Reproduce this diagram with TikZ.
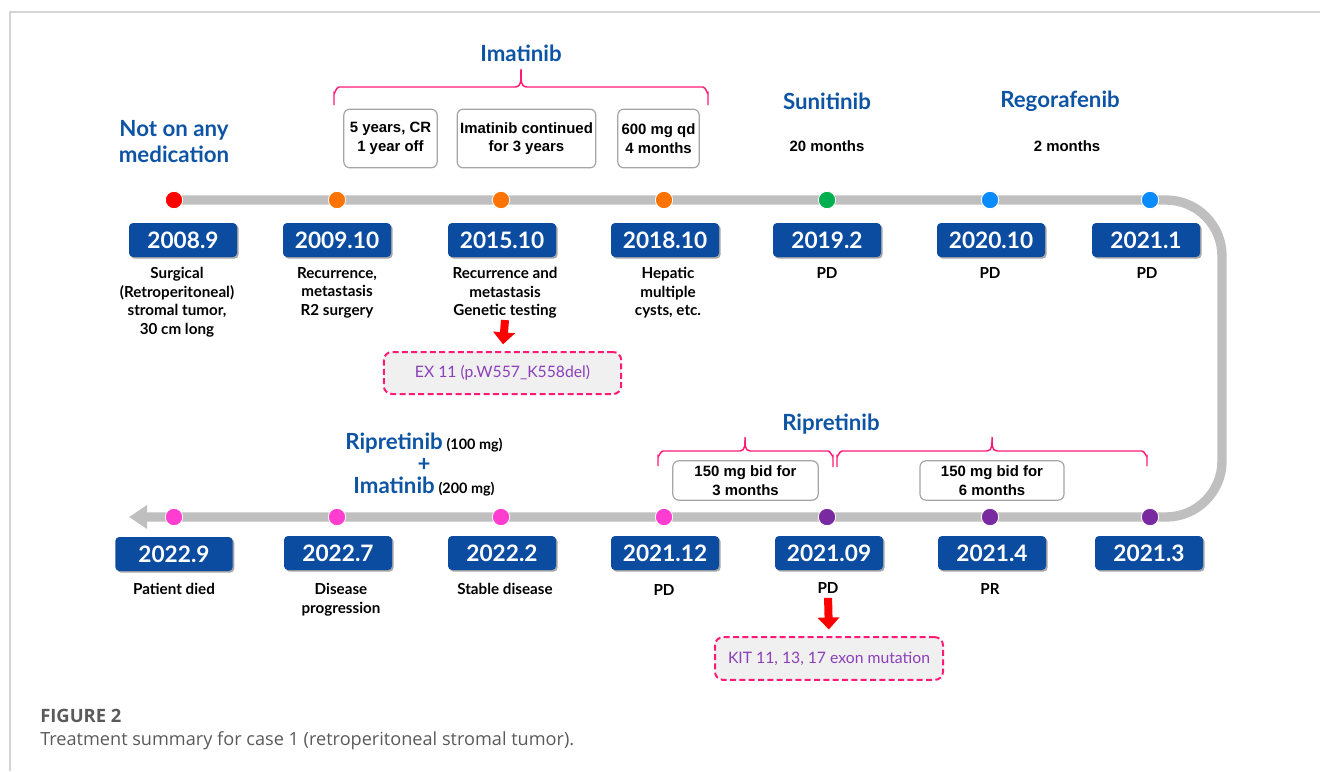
\documentclass[tikz,border=0pt]{standalone}
\usepackage{fontspec}
\setmainfont{Lato}
\newfontfamily\arialf{Liberation Sans}
\newfontfamily\capf{Open Sans}
\usetikzlibrary{shadows,arrows.meta}
\definecolor{dateblue}{RGB}{11,76,160}
\definecolor{tblue}{RGB}{14,84,165}
\definecolor{bracecol}{RGB}{255,26,117}
\colorlet{braceol}{bracecol}
\definecolor{tlgray}{RGB}{191,191,191}
\definecolor{dorange}{RGB}{255,115,0}
\definecolor{dgreen}{RGB}{0,176,80}
\definecolor{dblue}{RGB}{10,140,255}
\definecolor{dpink}{RGB}{255,61,208}
\definecolor{dpurple}{RGB}{122,42,160}
\definecolor{mutpurple}{RGB}{139,63,184}
\definecolor{capgray}{RGB}{90,90,90}
\definecolor{framecol}{RGB}{213,213,213}
\definecolor{boxgray}{RGB}{165,165,165}
\definecolor{mutfill}{RGB}{240,240,240}
\begin{document}
\begin{tikzpicture}[x=0.75pt,y=-0.75pt,
  datebox/.style={fill=dateblue, rounded corners=3pt, minimum width=81pt, minimum height=25.5pt,
    text=white, font=\bfseries\fontsize{17}{17}\selectfont, inner sep=0pt,
    drop shadow={shadow xshift=1.2pt, shadow yshift=-1.2pt, opacity=0.35, fill=black}},
  lbl/.style={anchor=north, align=center, inner sep=1pt, font=\bfseries\fontsize{11.4}{13.8}\selectfont},
  title/.style={align=center, text=tblue, font=\bfseries\fontsize{16.7}{19.5}\selectfont},
  dosebox/.style={draw=boxgray, line width=0.9pt, rounded corners=4.5pt, fill=white, align=center,
    font=\arialf\bfseries\fontsize{11.2}{14}\selectfont, inner sep=0pt},
  dosetxt/.style={align=center, font=\arialf\bfseries\fontsize{11.2}{14}\selectfont},
  dot/.style={circle, draw=white, line width=0.6pt, minimum size=13pt, inner sep=0pt},
  tl/.style={draw=tlgray, line width=7pt},
  mutbox/.style={draw=bracecol, dashed, dash pattern=on 4.5pt off 2.5pt, line width=1.5pt, fill=mutfill,
    rounded corners=6pt, text=mutpurple, font=\fontsize{11.8}{13}\selectfont, inner sep=0pt},
  redarr/.style={draw=red, line width=6pt, -{Triangle[length=9pt,width=16pt]}}
]
\useasboundingbox (0,0) rectangle (1320,771);
% frame
\draw[framecol, line width=1pt] (10,771) -- (10,12) -- (1320,12);

% coordinates of the timeline
\coordinate (p1) at (174,200);
\coordinate (p2) at (337,200);
\coordinate (p3) at (501,200);
\coordinate (p4) at (664,200);
\coordinate (p5) at (827,200);
\coordinate (p6) at (990,200);
\coordinate (p7) at (1150,200);
\coordinate (q1) at (174,517);
\coordinate (q2) at (337,517);
\coordinate (q3) at (501,517);
\coordinate (q4) at (664,517);
\coordinate (q5) at (827,517);
\coordinate (q6) at (990,517);
\coordinate (q7) at (1150,517);
\coordinate (c1) at (1222,200);
\coordinate (c2) at (1222,517);
\coordinate (tip) at (129,517);

\draw[tl, rounded corners=42pt, -{Triangle[length=13.5pt,width=17pt]}] (p1) -- (c1) -- (c2) -- (tip);

% dots
\node[dot, fill=red] (d1) at (p1) {};
\node[dot, fill=dorange] (d2) at (p2) {};
\node[dot, fill=dorange] (d3) at (p3) {};
\node[dot, fill=dorange] (d4) at (p4) {};
\node[dot, fill=dgreen] (d5) at (p5) {};
\node[dot, fill=dblue] (d6) at (p6) {};
\node[dot, fill=dblue] (d7) at (p7) {};
\node[dot, fill=dpink] (e1) at (q1) {};
\node[dot, fill=dpink] (e2) at (q2) {};
\node[dot, fill=dpink] (e3) at (q3) {};
\node[dot, fill=dpink] (e4) at (q4) {};
\node[dot, fill=dpurple] (e5) at (q5) {};
\node[dot, fill=dpurple] (e6) at (q6) {};
\node[dot, fill=dpurple] (e7) at (q7) {};

% date boxes top
\node[datebox] (t1) at (183,240) {2008.9};
\node[datebox] (t2) at (337,240) {2009.10};
\node[datebox] (t3) at (502,240) {2015.10};
\node[datebox] (t4) at (665,240) {2018.10};
\node[datebox] (t5) at (827,240) {2019.2};
\node[datebox] (t6) at (991,240) {2020.10};
\node[datebox] (t7) at (1146,240) {2021.1};
% date boxes bottom
\node[datebox, minimum width=88pt] (b1) at (174,554) {2022.9};
\node[datebox] (b2) at (338,553) {2022.7};
\node[datebox] (b3) at (502,553) {2022.2};
\node[datebox] (b4) at (665,553) {2021.12};
\node[datebox] (b5) at (829,553) {2021.09};
\node[datebox] (b6) at (992,553) {2021.4};
\node[datebox] (b7) at (1149,553) {2021.3};

% labels top
\node[lbl] (l1) at (177,266) {Surgical\\(Retroperitoneal)\\stromal tumor,\\30 cm long};
\node[lbl] (l2) at (337,266) {Recurrence,\\metastasis\\R2 surgery};
\node[lbl] (l3) at (505,266) {Recurrence and\\metastasis\\Genetic testing};
\node[lbl] (l4) at (668,266) {Hepatic\\multiple\\cysts, etc.};
\node[lbl] (l5) at (827,266) {PD};
\node[lbl] (l6) at (990,266) {PD};
\node[lbl] (l7) at (1147,266) {PD};
% labels bottom
\node[lbl] (m1) at (174,582) {Patient died};
\node[lbl] (m2) at (341,582) {Disease\\progression};
\node[lbl] (m3) at (505,582) {Stable disease};
\node[lbl] (m4) at (664,583) {PD};
\node[lbl] (m5) at (828,581) {PD};
\node[lbl] (m6) at (990,582) {PR};

% mutation boxes
\node[mutbox, minimum width=178pt, minimum height=31.5pt] (x1) at (502.5,373) {EX 11 (p.W557\_K558del)};
\node[mutbox, minimum width=171pt, minimum height=32pt] (x2) at (829,658.5) {KIT 11, 13, 17 exon mutation};
\draw[redarr, shorten <=0pt, shorten >=5pt] (l3.south) -- (x1.north);
\draw[redarr, shorten <=2pt, shorten >=5pt] (m5.south) -- (x2.north);

% titles
\node[title] (tn) at (174,142) {Not on any\\medication};
\node[title] (ti) at (521,53) {Imatinib};
\node[title] (ts) at (827,101) {Sunitinib};
\node[title] (tr) at (1060,101) {Regorafenib};
\node[title] (trp) at (831,424) {Ripretinib};
\node[title, text=black, font=\bfseries\fontsize{16.7}{16.5}\selectfont] (tc) at (424,465)
  {\textcolor{tblue}{Ripretinib}\,{\fontsize{10.8}{12}\selectfont (100 mg)}\\
   \textcolor{tblue}{+}\\
   \textcolor{tblue}{Imatinib}\,{\fontsize{10.8}{12}\selectfont (200 mg)}};

% dose boxes
\node[dosebox, minimum width=70pt, minimum height=44pt] (k1) at (390.5,138.5) {5 years, CR\\1 year off};
\node[dosebox, minimum width=104pt, minimum height=44pt] (k2) at (526.5,138.5) {Imatinib continued\\for 3 years};
\node[dosebox, minimum width=61pt, minimum height=44pt] (k3) at (658.5,138.5) {600 mg qd\\4 months};
\node[dosetxt] (k4) at (827,146) {20 months};
\node[dosetxt] (k5) at (1067,146) {2 months};
\node[dosebox, minimum width=109pt, minimum height=29.5pt] (k6) at (745.5,480.5) {150 mg bid for\\3 months};
\node[dosebox, minimum width=108pt, minimum height=29.5pt] (k7) at (992,480.5) {150 mg bid for\\6 months};

% braces
\draw[braceol, line width=1.1pt] (334,105) -- (334,93) to[out=-90,in=180] (339,87) -- (515,87)
  to[out=0,in=-90] (521,69) to[out=-90,in=180] (527,87) -- (703,87) to[out=0,in=-90] (708,93) -- (708,105);
\draw[braceol, line width=1.1pt] (658,466) -- (658,456) to[out=-90,in=180] (663,451) -- (740,451)
  to[out=0,in=-90] (745,437) to[out=-90,in=180] (750,451) -- (828,451) to[out=0,in=-90] (833,456) -- (833,467);
\draw[braceol, line width=1.1pt] (837,467) -- (837,456) to[out=-90,in=180] (842,451) -- (987,451)
  to[out=0,in=-90] (992,437) to[out=-90,in=180] (997,451) -- (1142,451) to[out=0,in=-90] (1147,456) -- (1147,466);

% caption
\node[anchor=west, inner sep=0pt, text=capgray, font=\capf\fontsize{13.8}{15}\selectfont] (cap1) at (40,716) {\textbf{FIGURE 2}};
\node[anchor=west, inner sep=0pt, text=capgray, font=\capf\fontsize{13.6}{15}\selectfont] (cap2) at (40,741) {Treatment summary for case 1 (retroperitoneal stromal tumor).};
\end{tikzpicture}
\end{document}
